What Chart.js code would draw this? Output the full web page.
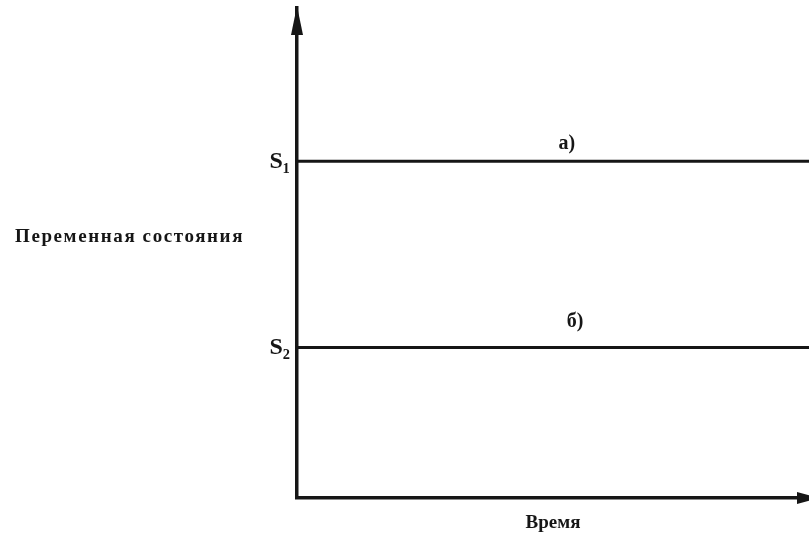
<!DOCTYPE html>
<html>
<head>
<meta charset="utf-8">
<script src="https://cdn.jsdelivr.net/npm/chart.js@4/dist/chart.umd.min.js"></script>
<style>
  html, body { margin: 0; padding: 0; background: #fff; }
  canvas { display: block; }
</style>
</head>
<body>
<canvas id="chart" width="809" height="537"></canvas>
<script>
// Time runs 0..10, state variable 0..10 (no numeric ticks in the figure)
const timeRange = [0, 10]
const stateLevels = [6.87, 3.07]          // S1, S2
const tickLabels = ["S\u2081", "S\u2082"]
const seriesLabels = ["а)", "б)"]
const seriesLabelX = [5.27, 5.43]
const yTitle = "Переменная состояния"
const xTitle = "Время"

const ink = "#161616"
const serif = "'Liberation Serif', 'DejaVu Serif', serif"

/** @type {any[]} */
const datasets = stateLevels.map((level, i) => ({
  label: seriesLabels[i],
  data: timeRange.map((t) => ({x: t, y: level})),
  borderColor: ink,
  borderWidth: 3,
  pointRadius: 0,
  fill: false,
}))

const decorations = {
  id: "decorations",
  afterDraw(chart) {
    const {ctx, chartArea, scales} = chart
    const xs = scales.x
    const ys = scales.y
    ctx.save()
    ctx.fillStyle = ink

    // arrow heads on both axes
    ctx.beginPath()
    ctx.moveTo(chartArea.left, chartArea.top - 2)
    ctx.lineTo(chartArea.left - 6, chartArea.top + 27)
    ctx.lineTo(chartArea.left + 6, chartArea.top + 27)
    ctx.closePath()
    ctx.fill()

    ctx.beginPath()
    ctx.moveTo(chartArea.right + 10, chartArea.bottom)
    ctx.lineTo(chartArea.right - 12, chartArea.bottom - 6)
    ctx.lineTo(chartArea.right - 12, chartArea.bottom + 6)
    ctx.closePath()
    ctx.fill()

    // series labels above each line
    ctx.font = `bold 20px ${serif}`
    ctx.textAlign = "center"
    ctx.textBaseline = "bottom"
    const offsets = [8, 16]
    seriesLabels.forEach((text, i) => {
      ctx.fillText(text, xs.getPixelForValue(seriesLabelX[i]), ys.getPixelForValue(stateLevels[i]) - offsets[i])
    })

    // horizontal y-axis title
    ctx.font = `bold 19px ${serif}`
    ctx.textAlign = "left"
    ctx.textBaseline = "middle"
    ctx.letterSpacing = "1.6px"
    ctx.fillText(yTitle, 15, 237)
    ctx.restore()
  },
}

new Chart(document.getElementById("chart"), {
  type: "line",
  data: {datasets},
  options: {
    responsive: false,
    animation: false,
    layout: {padding: {top: 8, right: 0, left: 0, bottom: 0}},
    plugins: {legend: {display: false}, tooltip: {enabled: false}},
    scales: {
      x: {
        type: "linear",
        min: timeRange[0],
        max: timeRange[1],
        grid: {display: false, drawTicks: false},
        border: {display: true, color: ink, width: 3.5},
        ticks: {display: false},
        title: {
          display: true,
          text: xTitle,
          color: ink,
          font: {family: serif, size: 19, weight: "bold"},
          padding: {top: 0, bottom: 3},
        },
        afterFit: (scale) => { scale.height = 39 },
      },
      y: {
        min: 0,
        max: 10,
        grid: {display: false, drawTicks: false},
        border: {display: true, color: ink, width: 3.5},
        afterBuildTicks: (scale) => {
          scale.ticks = stateLevels.map((value) => ({value}))
        },
        ticks: {
          color: ink,
          padding: 7,
          font: {family: serif, size: 24, weight: "bold"},
          callback: (value) => tickLabels[stateLevels.indexOf(value)],
        },
        afterFit: (scale) => {
          scale.width = 297
          scale.paddingTop = 0
          scale.paddingBottom = 0
        },
      },
    },
  },
  plugins: [decorations],
})
</script>
</body>
</html>
